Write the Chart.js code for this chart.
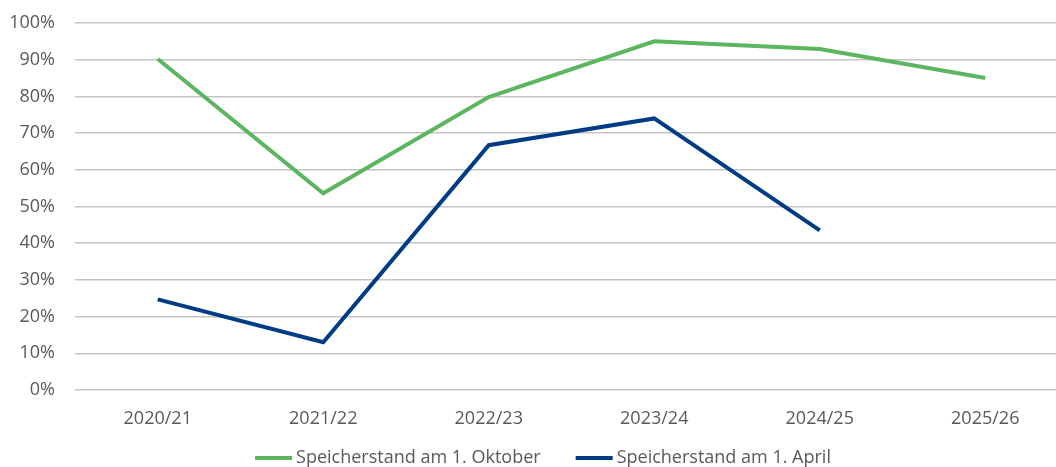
<!DOCTYPE html>
<html>
<head>
<meta charset="utf-8">
<script src="https://cdn.jsdelivr.net/npm/chart.js@4"></script>
<style>
  html, body { margin: 0; padding: 0; overflow: hidden; background: #ffffff; }
  #wrap { width: 1086px; height: 467px; position: relative; }
</style>
</head>
<body>
<div id="wrap"><canvas id="c"></canvas></div>
<script>
const categories = ["2020/21", "2021/22", "2022/23", "2023/24", "2024/25", "2025/26"];
const oktober = [90.2, 53.6, 79.8, 95.0, 92.9, 85.0];
const april = [24.7, 13.0, 66.7, 74.0, 43.5, null];
const seriesNames = ["Speicherstand am 1. Oktober", "Speicherstand am 1. April"];
const yTicks = [0, 10, 20, 30, 40, 50, 60, 70, 80, 90, 100];

const GREEN = "#5CB660";
const BLUE = "#003C85";
const TEXT = "#595959";
const FONT = "'Open Sans', 'Liberation Sans', sans-serif";
const FSIZE = 18;

// legend drawn below the axis, items laid out from dataset labels/colours
const bottomLegend = {
  id: "bottomLegend",
  afterDraw(chart) {
    const ctx = chart.ctx;
    const sampleW = 37, sampleH = 4, textGap = 4, itemGap = 35;
    ctx.save();
    ctx.font = FSIZE + "px " + FONT;
    const items = chart.data.datasets.map(ds => ({
      text: ds.label, color: ds.borderColor, w: ctx.measureText(ds.label).width
    }));
    const total = items.reduce((s, it) => s + sampleW + textGap + it.w, 0) + itemGap * (items.length - 1);
    let x = chart.width / 2 - total / 2;
    const y = chart.chartArea.bottom + 68;
    ctx.textBaseline = "middle";
    ctx.textAlign = "left";
    items.forEach(it => {
      ctx.fillStyle = it.color;
      ctx.fillRect(x, y - sampleH / 2, sampleW, sampleH);
      x += sampleW + textGap;
      ctx.fillStyle = TEXT;
      ctx.fillText(it.text, x, y);
      x += it.w + itemGap;
    });
    ctx.restore();
  }
};

new Chart(document.getElementById("c"), {
  type: "line",
  data: {
    labels: categories,
    datasets: [
      { label: seriesNames[0], data: oktober, borderColor: GREEN, backgroundColor: GREEN, borderWidth: 4, pointRadius: 0, tension: 0, spanGaps: false },
      { label: seriesNames[1], data: april, borderColor: BLUE, backgroundColor: BLUE, borderWidth: 4, pointRadius: 0, tension: 0, spanGaps: false }
    ]
  },
  plugins: [bottomLegend],
  options: {
    responsive: true,
    maintainAspectRatio: false,
    animation: false,
    layout: { padding: { top: 23, left: 0, right: 18, bottom: 35 } },
    plugins: {
      tooltip: { enabled: false },
      legend: { display: false }
    },
    scales: {
      x: {
        offset: true,
        grid: { display: false, drawTicks: false },
        border: { display: false },
        ticks: { font: { family: FONT, size: FSIZE }, color: TEXT, padding: 18, maxRotation: 0 },
        afterFit(scale) { scale.height = 42; scale.paddingLeft = 0; scale.paddingRight = 0; }
      },
      y: {
        min: 0,
        max: 100,
        afterBuildTicks(scale) { scale.ticks = yTicks.map(v => ({ value: v })); },
        grid: { color: "#C4C4C4", lineWidth: 1.5, drawTicks: false },
        border: { display: false },
        ticks: {
          font: { family: FONT, size: FSIZE },
          color: TEXT,
          padding: 20,
          callback: v => v + "%"
        },
        afterFit(scale) { scale.width = 75; scale.paddingTop = 0; scale.paddingBottom = 0; }
      }
    }
  }
});
</script>
</body>
</html>
